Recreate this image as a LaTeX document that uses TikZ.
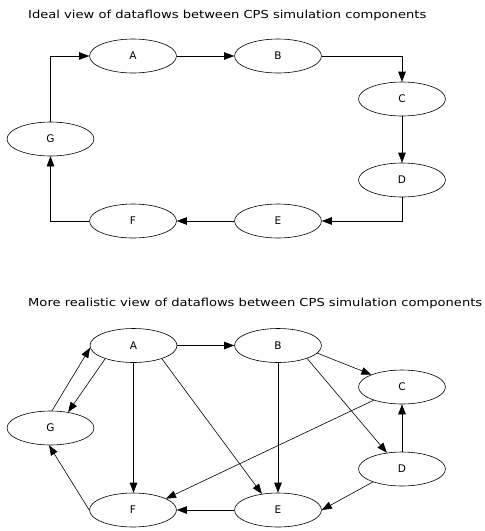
\documentclass[tikz,border=0pt]{standalone}
\usepackage{fontspec}
\usepackage{graphicx}
\setmainfont{DejaVu Sans}
\usetikzlibrary{arrows.meta,shapes.geometric}
\begin{document}
\begin{tikzpicture}[x=1pt,y=-1pt,
  comp/.style={draw, ellipse, minimum width=87pt, minimum height=34pt, inner sep=0pt, line width=0.6pt, font=\fontsize{10.5}{12}\selectfont},
  flow/.style={draw, line width=0.6pt, -{Triangle[length=10pt,width=7.5pt]}},
  ttl/.style={anchor=west, inner sep=0pt, font=\fontsize{11}{13}\selectfont}]
\useasboundingbox (0,0) rectangle (485,531);
% titles
\node[ttl] (t1) at (28,15) {\scalebox{1.19}[1]{Ideal view of dataflows between CPS simulation components}};
\node[ttl] (t2) at (28,303) {\scalebox{1.19}[1]{More realistic view of dataflows between CPS simulation components}};
% top diagram
\node[comp] (A1) at (133,56) {A};
\node[comp] (B1) at (278,56) {B};
\node[comp] (C1) at (402,99) {C};
\node[comp] (D1) at (402,180) {D};
\node[comp] (E1) at (278,221) {E};
\node[comp] (F1) at (133,221) {F};
\node[comp] (G1) at (50.5,139) {G};
\draw[flow] (G1.north) |- (A1.west);
\draw[flow] (A1) -- (B1);
\draw[flow] (B1.east) -| (C1.north);
\draw[flow] (C1) -- (D1);
\draw[flow] (D1.south) |- (E1.east);
\draw[flow] (E1) -- (F1);
\draw[flow] (F1.west) -| (G1.south);
% bottom diagram
\node[comp] (A2) at (133.5,345.5) {A};
\node[comp] (B2) at (278,345.5) {B};
\node[comp] (C2) at (402,387) {C};
\node[comp] (D2) at (402,469) {D};
\node[comp] (E2) at (278,510) {E};
\node[comp] (F2) at (133,510) {F};
\node[comp] (G2) at (50.5,428) {G};
\draw[flow] (G2.85) -- (A2.183);
\draw[flow] (A2.205) -- (G2.42);
\draw[flow] (A2) -- (B2);
\draw[flow] (A2.south) -- (A2.south |- F2.north);
\draw[flow] (A2.335) -- (E2.135);
\draw[flow] (B2.349) -- (C2.158);
\draw[flow] (B2.336) -- (D2.133);
\draw[flow] (B2.south) -- (B2.south |- E2.north);
\draw[flow] (C2.205) -- (F2.19);
\draw[flow] (D2) -- (C2);
\draw[flow] (D2.204) -- (E2.east);
\draw[flow] (E2) -- (F2);
\draw[flow] (F2.west) -- (G2.265);
\end{tikzpicture}
\end{document}
